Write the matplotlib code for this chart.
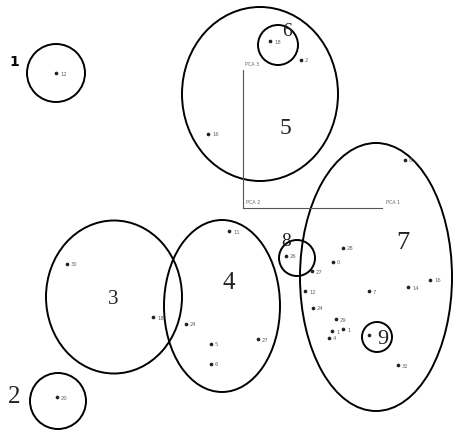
import matplotlib.pyplot as plt
from matplotlib.patches import Ellipse

# cluster outlines, in image pixel units (x right, y down)
cluster_ids = ['1', '2', '3', '4', '5', '6', '7', '8', '9']
cluster_cx = [56, 58, 114, 222, 260, 278, 376, 297, 377]
cluster_cy = [73, 401, 297, 306, 94, 45, 277, 258, 337]
cluster_w = [58, 56, 136, 116, 156, 40, 152, 36, 30]
cluster_h = [58, 56, 153, 172, 174, 40, 268, 36, 30]
label_x = [14, 14, 113, 229, 285, 287, 403, 286, 383]
label_y = [62, 397, 300, 283, 128, 32, 243, 241, 340]
label_size = [10, 18, 15, 18, 17, 14, 19, 14, 16]

# scores
pt_x = [56, 270, 301, 208, 405, 67, 229, 153, 186, 211, 211, 258, 57,
        286, 343, 333, 312, 305, 313, 336, 332, 343, 329, 369, 408, 430, 369, 398]
pt_y = [73, 41, 60, 134, 160, 264, 231, 317, 324, 344, 364, 339, 397,
        256, 248, 262, 271, 291, 308, 319, 331, 329, 338, 291, 287, 280, 335, 365]
pt_lab = ['12', '18', '2', '16', '8', '30', '11', '18', '24', '5', '6', '27', '20',
          '26', '28', '0', '27', '12', '24', '29', '1', '1', '4', '7', '14', '16', '', '32']

# PCA axes
axis_x0, axis_y0 = 243, 208
axis_x1, axis_y1 = 382, 70

fig = plt.figure(figsize=(4.68, 4.32), dpi=100)
ax = fig.add_axes([0, 0, 1, 1])
ax.set_xlim(0, 468)
ax.set_ylim(432, 0)
ax.axis('off')

for i in range(len(cluster_ids)):
    e = Ellipse((cluster_cx[i], cluster_cy[i]), cluster_w[i], cluster_h[i],
                fill=False, edgecolor='black', linewidth=1.4)
    ax.add_patch(e)
    if cluster_ids[i] == '1':
        ax.text(label_x[i], label_y[i], cluster_ids[i], fontsize=label_size[i],
                fontweight='bold', family='DejaVu Sans', ha='center', va='center')
    else:
        ax.text(label_x[i], label_y[i], cluster_ids[i], fontsize=label_size[i],
                family='Liberation Serif', ha='center', va='center', color='#222222')

ax.plot([axis_x0, axis_x0], [axis_y1, axis_y0], color='#555555', linewidth=0.8)
ax.plot([axis_x0, axis_x1], [axis_y0, axis_y0], color='#555555', linewidth=0.8)
ax.text(axis_x0 + 2, axis_y1 - 5, 'PCA 3', fontsize=3.5, color='#666666', va='center')
ax.text(axis_x0 + 3, axis_y0 - 5, 'PCA 2', fontsize=3.5, color='#666666', va='center')
ax.text(axis_x1 + 4, axis_y0 - 5, 'PCA 1', fontsize=3.5, color='#666666', va='center')

ax.scatter(pt_x, pt_y, s=7, color='#222222', marker='o', linewidths=0)
for x, y, t in zip(pt_x, pt_y, pt_lab):
    ax.text(x + 4, y + 1, t, fontsize=3.8, color='#666666', va='center')

fig.savefig('out.png', dpi=100)
